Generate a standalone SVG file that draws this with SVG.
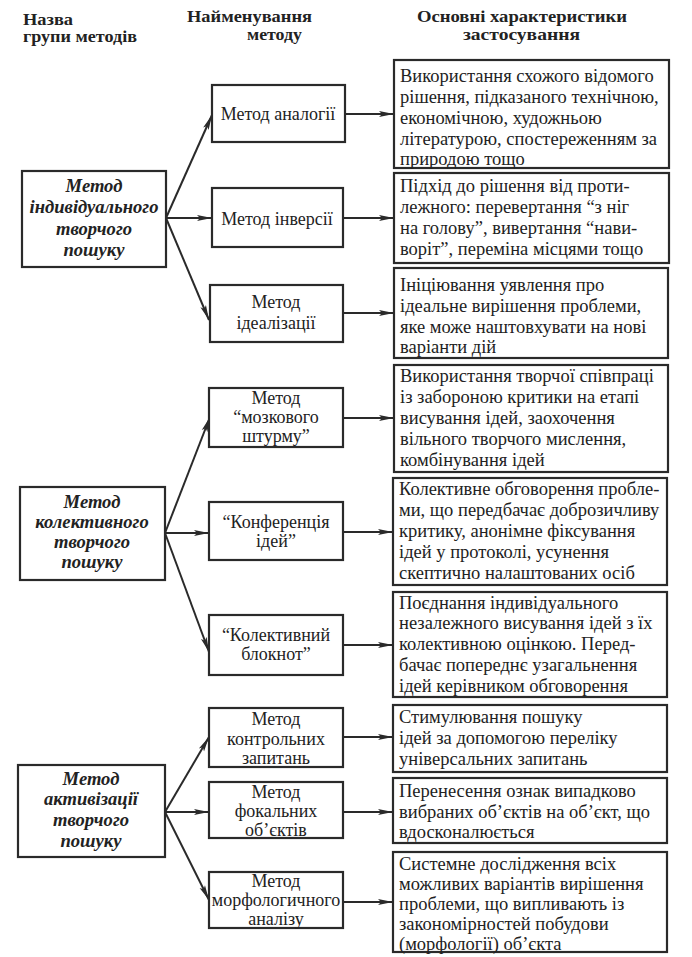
<svg xmlns="http://www.w3.org/2000/svg" width="692" height="957" viewBox="0 0 692 957" font-family="'Liberation Serif', serif">
<defs>
<style>
text{fill:#222}
.hd{font-weight:bold;font-size:16px}
.box{fill:#fff;stroke:#2a2a2a;stroke-width:2.2}
.grp text{font-weight:bold;font-style:italic;font-size:18.6px;text-anchor:middle}
.mid text{font-size:18px;text-anchor:middle}
.desc text{font-size:18.5px}
.con line{stroke:#2a2a2a;stroke-width:2;marker-end:url(#ah)}
</style>
<marker id="ah" markerUnits="userSpaceOnUse" markerWidth="16" markerHeight="8" refX="15" refY="4" orient="auto">
<path d="M0,1 L15,4 L0,7 L3,4 z" fill="#2a2a2a"/>
</marker>
</defs>
<rect width="692" height="957" fill="#fff"/>
<g id="headers">
<text class="hd" x="23" y="25" textLength="50" lengthAdjust="spacingAndGlyphs">Назва</text>
<text class="hd" x="23" y="42" textLength="114" lengthAdjust="spacingAndGlyphs">групи методів</text>
<text class="hd" x="187" y="22" textLength="125" lengthAdjust="spacingAndGlyphs">Найменування</text>
<text class="hd" x="247" y="40" textLength="55" lengthAdjust="spacingAndGlyphs">методу</text>
<text class="hd" x="417" y="22" textLength="210" lengthAdjust="spacingAndGlyphs">Основні характеристики</text>
<text class="hd" x="463" y="40" textLength="117" lengthAdjust="spacingAndGlyphs">застосування</text>
</g>

<g id="connectors" class="con">
<line x1="166" y1="218" x2="212" y2="115"/>
<line x1="166" y1="218" x2="212" y2="218"/>
<line x1="166" y1="218" x2="209" y2="320"/>
<line x1="165" y1="533" x2="210" y2="417"/>
<line x1="165" y1="533" x2="209" y2="533"/>
<line x1="165" y1="533" x2="209" y2="652"/>
<line x1="165" y1="812" x2="209" y2="737"/>
<line x1="165" y1="812" x2="209" y2="812"/>
<line x1="165" y1="812" x2="209" y2="900"/>
<line x1="345" y1="114" x2="394" y2="114"/>
<line x1="343" y1="218" x2="394" y2="218"/>
<line x1="343" y1="313" x2="394" y2="313"/>
<line x1="343" y1="418" x2="394" y2="418"/>
<line x1="343" y1="532" x2="393" y2="532"/>
<line x1="343" y1="645" x2="393" y2="645"/>
<line x1="343" y1="737" x2="393" y2="737"/>
<line x1="343" y1="812" x2="393" y2="812"/>
<line x1="343" y1="902" x2="393" y2="902"/>
</g>

<g id="g1" class="grp">
<rect class="box" x="22" y="171" width="144" height="96"/>
<text x="94" y="192">Метод</text>
<text x="94" y="213">індивідуального</text>
<text x="94" y="235">творчого</text>
<text x="94" y="256">пошуку</text>
</g>
<g id="g2" class="grp">
<rect class="box" x="20" y="487" width="145" height="93"/>
<text x="92" y="508">Метод</text>
<text x="92" y="528">колективного</text>
<text x="92" y="548">творчого</text>
<text x="92" y="568">пошуку</text>
</g>
<g id="g3" class="grp">
<rect class="box" x="18" y="765" width="147" height="92"/>
<text x="91" y="785">Метод</text>
<text x="91" y="805">активізації</text>
<text x="91" y="826">творчого</text>
<text x="91" y="847">пошуку</text>
</g>

<g id="m1" class="mid">
<rect class="box" x="212" y="85" width="133" height="57"/>
<text x="278" y="120">Метод аналогії</text>
</g>
<g id="m2" class="mid">
<rect class="box" x="212" y="188" width="131" height="59"/>
<text x="277" y="225">Метод інверсії</text>
</g>
<g id="m3" class="mid">
<rect class="box" x="210" y="285" width="133" height="57"/>
<text x="276" y="308">Метод</text>
<text x="276" y="329">ідеалізації</text>
</g>
<g id="m4" class="mid">
<rect class="box" x="209" y="388" width="134" height="59"/>
<text x="276" y="404">Метод</text>
<text x="276" y="423">“мозкового</text>
<text x="276" y="442">штурму”</text>
</g>
<g id="m5" class="mid">
<rect class="box" x="209" y="502" width="134" height="58"/>
<text x="276" y="528">“Конференція</text>
<text x="276" y="547">ідей”</text>
</g>
<g id="m6" class="mid">
<rect class="box" x="209" y="615" width="134" height="60"/>
<text x="276" y="641">“Колективний</text>
<text x="276" y="660">блокнот”</text>
</g>
<g id="m7" class="mid">
<rect class="box" x="209" y="708" width="134" height="59"/>
<text x="276" y="725">Метод</text>
<text x="276" y="745">контрольних</text>
<text x="276" y="764">запитань</text>
</g>
<g id="m8" class="mid">
<rect class="box" x="209" y="782" width="134" height="56"/>
<text x="276" y="798">Метод</text>
<text x="276" y="817">фокальних</text>
<text x="276" y="836">об’єктів</text>
</g>
<g id="m9" class="mid">
<rect class="box" x="209" y="872" width="134" height="56"/>
<text x="276" y="887">Метод</text>
<text x="276" y="906">морфологичного</text>
<text x="276" y="925">аналізу</text>
</g>

<g id="d1" class="desc">
<rect class="box" x="394" y="60" width="275" height="108"/>
<text x="400" y="82">Використання схожого відомого</text>
<text x="400" y="103">рішення, підказаного технічною,</text>
<text x="400" y="124">економічною, художньою</text>
<text x="400" y="145">літературою, спостереженням за</text>
<text x="400" y="165">природою тощо</text>
</g>
<g id="d2" class="desc">
<rect class="box" x="394" y="173" width="275" height="90"/>
<text x="400" y="192">Підхід до рішення від проти-</text>
<text x="400" y="213">лежного: перевертання “з ніг</text>
<text x="400" y="234">на голову”, вивертання “нави-</text>
<text x="400" y="255">воріт”, переміна місцями тощо</text>
</g>
<g id="d3" class="desc">
<rect class="box" x="394" y="268" width="274" height="90"/>
<text x="400" y="291">Ініціювання уявлення про</text>
<text x="400" y="312">ідеальне вирішення проблеми,</text>
<text x="400" y="333">яке може наштовхувати на нові</text>
<text x="400" y="353">варіанти дій</text>
</g>
<g id="d4" class="desc">
<rect class="box" x="394" y="365" width="274" height="107"/>
<text x="400" y="382">Використання творчої співпраці</text>
<text x="400" y="403">із забороною критики на етапі</text>
<text x="400" y="424">висування ідей, заохочення</text>
<text x="400" y="445">вільного творчого мислення,</text>
<text x="400" y="466">комбінування ідей</text>
</g>
<g id="d5" class="desc">
<rect class="box" x="393" y="478" width="274" height="107"/>
<text x="399" y="495">Колективне обговорення пробле-</text>
<text x="399" y="516">ми, що передбачає доброзичливу</text>
<text x="399" y="537">критику, анонімне фіксування</text>
<text x="399" y="558">ідей у протоколі, усунення</text>
<text x="399" y="579">скептично налаштованих осіб</text>
</g>
<g id="d6" class="desc">
<rect class="box" x="393" y="592" width="274" height="105"/>
<text x="399" y="609">Поєднання індивідуального</text>
<text x="399" y="629">незалежного висування ідей з їх</text>
<text x="399" y="650">колективною оцінкою. Перед-</text>
<text x="399" y="671">бачає попереднє узагальнення</text>
<text x="399" y="692">ідей керівником обговорення</text>
</g>
<g id="d7" class="desc">
<rect class="box" x="393" y="705" width="274" height="67"/>
<text x="399" y="723">Стимулювання пошуку</text>
<text x="399" y="744">ідей за допомогою переліку</text>
<text x="399" y="765">універсальних запитань</text>
</g>
<g id="d8" class="desc">
<rect class="box" x="393" y="778" width="274" height="65"/>
<text x="399" y="797">Перенесення ознак випадково</text>
<text x="399" y="818">вибраних об’єктів на об’єкт, що</text>
<text x="399" y="838">вдосконалюється</text>
</g>
<g id="d9" class="desc">
<rect class="box" x="393" y="852" width="274" height="100"/>
<text x="399" y="870">Системне дослідження всіх</text>
<text x="399" y="890">можливих варіантів вирішення</text>
<text x="399" y="910">проблеми, що випливають із</text>
<text x="399" y="930">закономірностей побудови</text>
<text x="399" y="950">(морфології) об’єкта</text>
</g>
</svg>
